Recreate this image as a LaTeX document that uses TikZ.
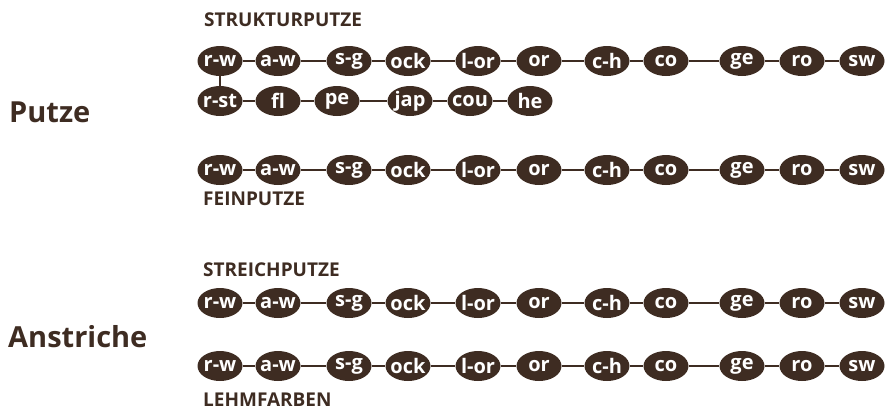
\documentclass[tikz,border=0pt]{standalone}
\usepackage{fontspec}
\setmainfont{Open Sans}
\usetikzlibrary{shapes.geometric}
\definecolor{bark}{RGB}{62,44,34}
\tikzset{pill/.style={ellipse,fill=bark,text=white,minimum width=45pt,minimum height=30pt,inner sep=0pt,font=\fontsize{20}{22}\selectfont\bfseries}}

\begin{document}
\begin{tikzpicture}[x=1pt,y=-1pt]
\tikzset{link/.style={draw=bark,line width=2pt}}
\tikzset{heading/.style={anchor=base west,text=bark,inner sep=0pt,font=\fontsize{19}{20}\selectfont\bfseries}}
\tikzset{group/.style={anchor=base west,text=bark,inner sep=0pt,font=\fontsize{29}{30}\selectfont\bfseries}}
\useasboundingbox (0,0) rectangle (890,410);
\node[group] (putze) at (9,122) {Putze};
\node[group] (anstriche) at (8,347) {Anstriche};
\node[heading] (struktur) at (204,26) {STRUKTURPUTZE};
\node[heading] (fein) at (203,205) {FEINPUTZE};
\node[heading] (streich) at (203,276) {STREICHPUTZE};
\node[heading] (lehm) at (203,406) {LEHMFARBEN};
\foreach \r/\y in {a/61,c/170,d/303,e/366}{
  \foreach \x/\lbl [count=\i] in {220/r-w,278/a-w,349/s-g,408/ock,478/l-or,539/or,607/c-h,666/co,742/ge,802/ro,862/sw}
    \node[pill] (\r\i) at (\x,\y) {\makebox[0pt]{\lbl}};
  \foreach \i [evaluate=\i as \j using int(\i+1)] in {1,...,10}
    \draw[link] (\r\i) -- (\r\j);
}
\foreach \x/\lbl [count=\i] in {220/r-st,278/fl,337/pe,410/jap,470/cou,530/he}
  \node[pill] (b\i) at (\x,101) {\makebox[0pt]{\lbl}};
\foreach \i [evaluate=\i as \j using int(\i+1)] in {1,...,5}
  \draw[link] (b\i) -- (b\j);
\draw[link] (a1) -- (b1);
\end{tikzpicture}
\end{document}
